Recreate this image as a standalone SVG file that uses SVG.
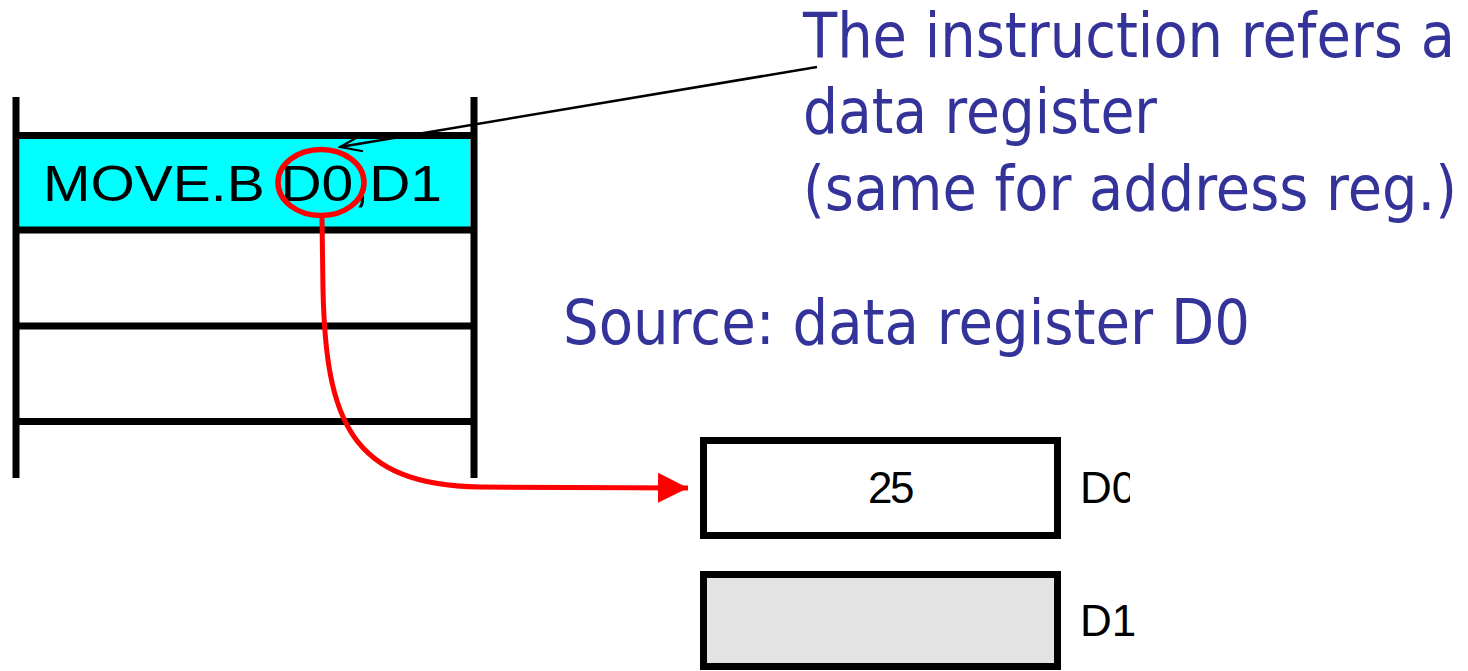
<svg xmlns="http://www.w3.org/2000/svg" width="1468" height="671" viewBox="0 0 1468 671">
  <style>
    .bar { stroke: #000; stroke-width: 7; fill: none; }
    .note { font-family: "DejaVu Sans Condensed", "DejaVu Sans", sans-serif; font-size: 62px; fill: #333399; }
    .mono { font-family: "Liberation Sans", Arial, sans-serif; fill: #000; }
    .reg { stroke: #000; stroke-width: 7; }
  </style>
  <defs>
    <marker id="openArrow" markerWidth="26" markerHeight="18" refX="24" refY="9" orient="auto" markerUnits="userSpaceOnUse">
      <path d="M2,1 L24,9 L2,17" fill="none" stroke="#000" stroke-width="2.2"/>
    </marker>
    <marker id="redArrow" markerWidth="32" markerHeight="32" refX="30" refY="16" orient="auto" markerUnits="userSpaceOnUse">
      <path d="M0,1 L30,16 L0,31 Z" fill="#ff0000"/>
    </marker>
    <!-- the D0 label is cut at the frame edge -->
    <clipPath id="d0clip">
      <rect x="1070" y="440" width="60" height="80"/>
    </clipPath>
  </defs>

  <!-- memory column -->
  <g id="memory">
    <rect x="20" y="139" width="450" height="88" fill="#00ffff"/>
    <line class="bar" x1="16" y1="97" x2="16" y2="478"/>
    <line class="bar" x1="474" y1="97" x2="474" y2="478"/>
    <line class="bar" x1="19" y1="135.5" x2="471" y2="135.5"/>
    <line class="bar" x1="19" y1="230" x2="471" y2="230"/>
    <line class="bar" x1="19" y1="326" x2="471" y2="326"/>
    <line class="bar" x1="19" y1="421.5" x2="471" y2="421.5"/>
    <text class="mono" x="43" y="201" font-size="50" textLength="399" lengthAdjust="spacingAndGlyphs">MOVE.B D0,D1</text>
  </g>

  <!-- operand highlight -->
  <g id="highlight">
    <ellipse cx="321" cy="182.5" rx="43" ry="33" fill="none" stroke="#ff0000" stroke-width="5.5"/>
  </g>

  <!-- annotations -->
  <g id="note-instruction">
    <text class="note" x="803" y="57" textLength="652" lengthAdjust="spacingAndGlyphs">The instruction refers a</text>
    <text class="note" x="803" y="133" textLength="354" lengthAdjust="spacingAndGlyphs">data register</text>
    <text class="note" x="803" y="210" textLength="654" lengthAdjust="spacingAndGlyphs">(same for address reg.)</text>
  </g>
  <g id="note-source">
    <text class="note" x="563" y="344" textLength="687" lengthAdjust="spacingAndGlyphs">Source: data register D0</text>
  </g>

  <!-- registers -->
  <g id="reg-d0">
    <rect class="reg" x="703.5" y="440.5" width="354" height="95" fill="#ffffff"/>
    <text class="mono" x="890" y="503" font-size="44" text-anchor="middle" letter-spacing="-2.5">25</text>
    <text class="mono" x="1080" y="503" font-size="44" clip-path="url(#d0clip)">D0</text>
  </g>
  <g id="reg-d1">
    <rect class="reg" x="703.5" y="574.5" width="354" height="92" fill="#e3e3e3"/>
    <text class="mono" x="1080" y="636" font-size="44">D1</text>
  </g>

  <!-- connectors -->
  <g id="connectors">
    <line x1="817" y1="67" x2="340" y2="147" stroke="#000" stroke-width="2.5" marker-end="url(#openArrow)"/>
    <path d="M322,218 L323,290 C326,420 350,485 480,487 L688,488" fill="none" stroke="#ff0000" stroke-width="5" marker-end="url(#redArrow)"/>
  </g>
</svg>
